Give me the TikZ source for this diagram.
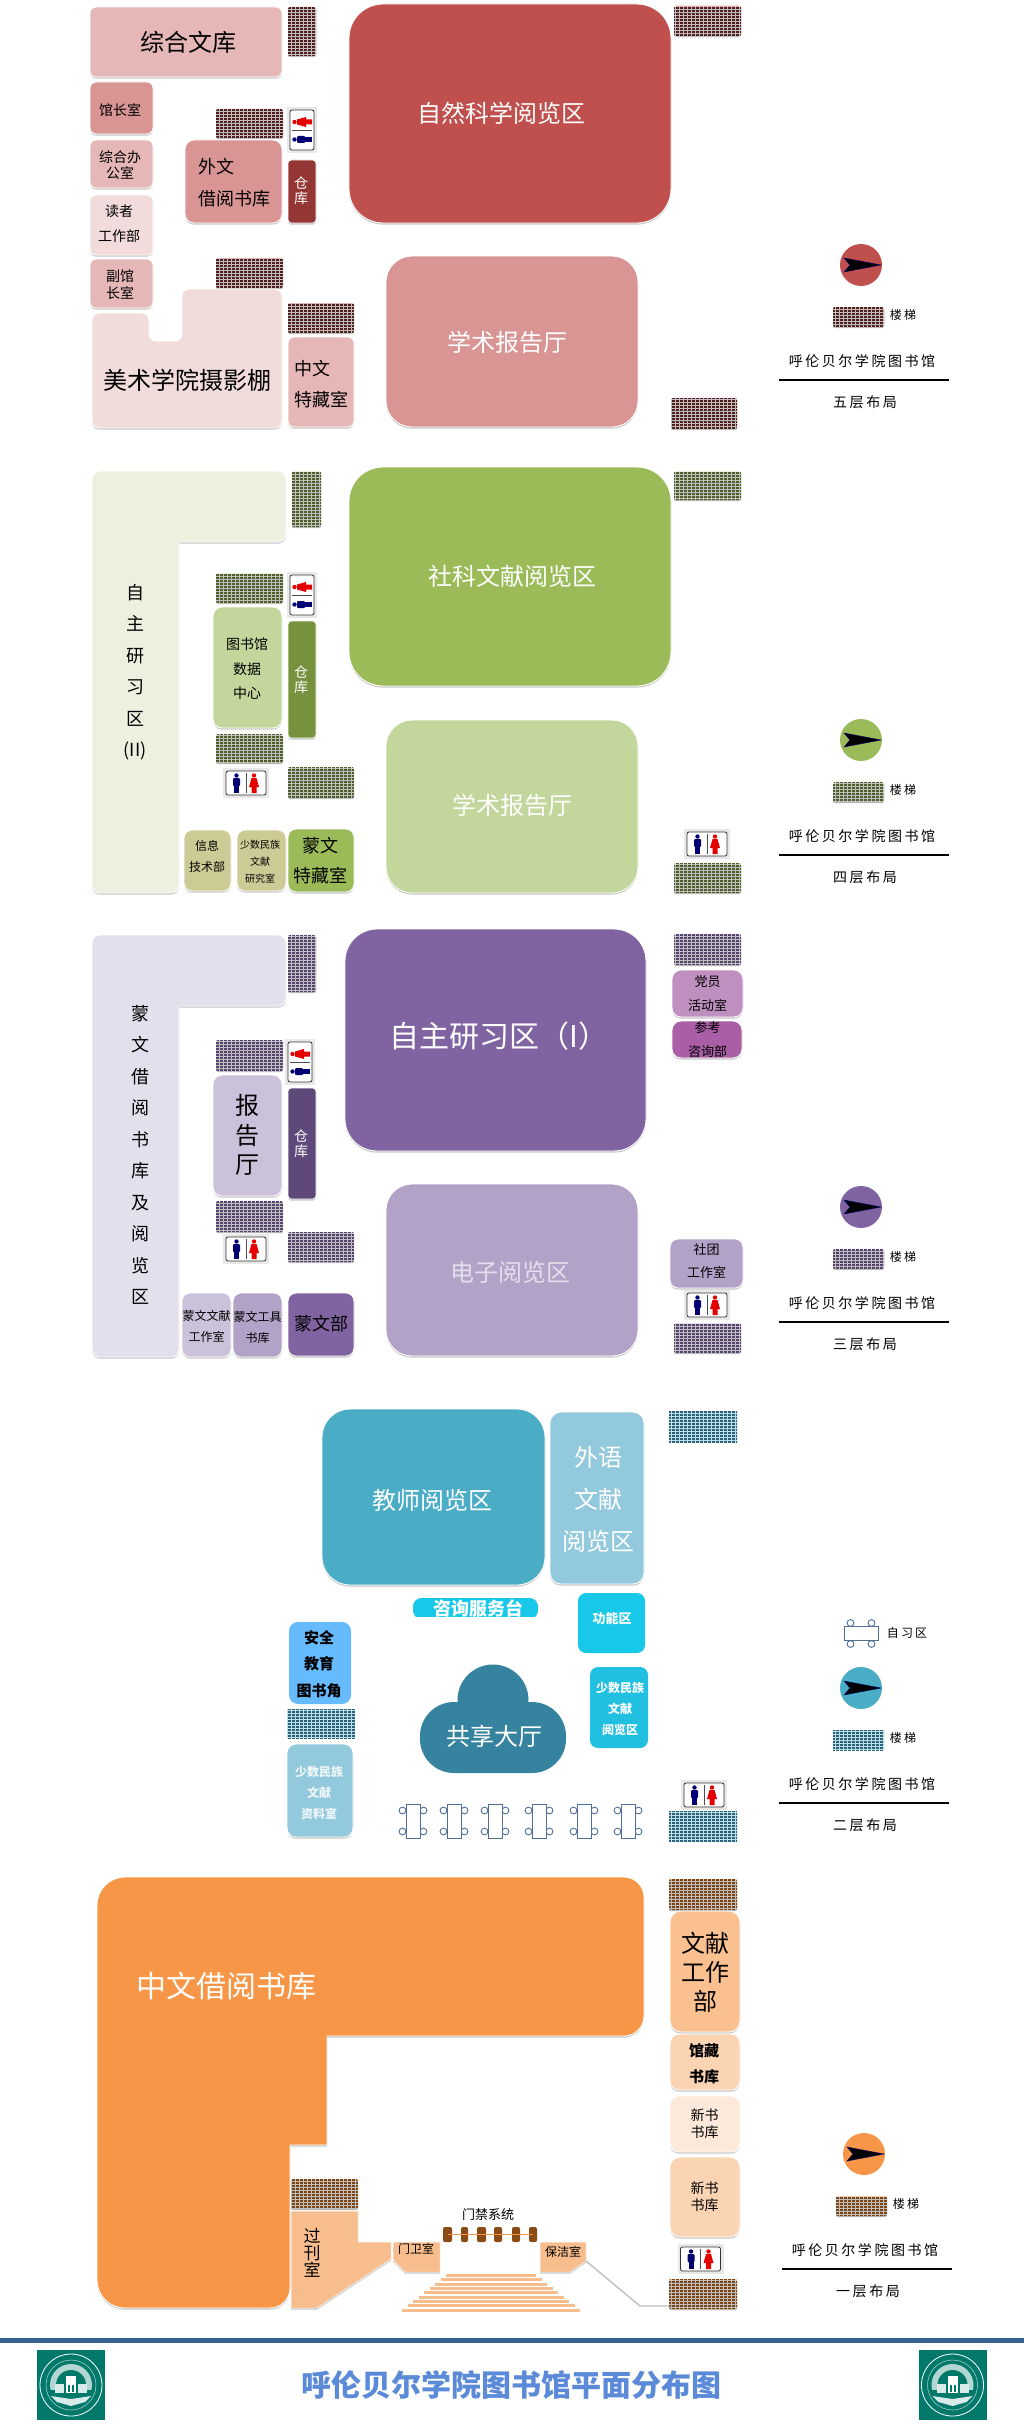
\documentclass[tikz,border=0pt]{standalone}
\usepackage{fontspec}
\setmainfont{Noto Sans CJK SC}
\newfontfamily\cjkspaced[LetterSpace=18]{Noto Sans CJK SC}
\usetikzlibrary{patterns,shadows,shapes.geometric}
\pgfdeclarepatternformonly{stairdots}{\pgfqpoint{-.1pt}{-.1pt}}{\pgfqpoint{3.1pt}{2.1pt}}{\pgfqpoint{4pt}{3pt}}{%
  \pgfpathrectangle{\pgfqpoint{0pt}{0pt}}{\pgfqpoint{3pt}{2pt}}\pgfusepath{fill}}
\definecolor{rA}{HTML}{C0504D}\definecolor{rB}{HTML}{D99594}\definecolor{rC}{HTML}{E5B8B7}\definecolor{rD}{HTML}{F2DCDB}\definecolor{rE}{HTML}{943634}
\definecolor{gA}{HTML}{9BBB59}\definecolor{gB}{HTML}{C3D69B}\definecolor{gC}{HTML}{EBF1DE}\definecolor{gD}{HTML}{76923C}\definecolor{gE}{HTML}{CDCB95}
\definecolor{pA}{HTML}{8064A2}\definecolor{pB}{HTML}{B2A2C7}\definecolor{pC}{HTML}{CCC1DA}\definecolor{pD}{HTML}{E4DFEC}\definecolor{pE}{HTML}{5F497A}\definecolor{pF}{HTML}{BF8FC0}\definecolor{pG}{HTML}{A95EA5}
\definecolor{bA}{HTML}{4BACC6}\definecolor{bB}{HTML}{93C9DC}\definecolor{bC}{HTML}{17C8E8}\definecolor{bD}{HTML}{21BFE0}\definecolor{bE}{HTML}{66BBFF}\definecolor{bF}{HTML}{35839F}
\definecolor{oA}{HTML}{F79646}\definecolor{oB}{HTML}{FAC090}\definecolor{oC}{HTML}{FBD4B4}\definecolor{oD}{HTML}{FDE9D9}\definecolor{oE}{HTML}{F8BD8C}\definecolor{oF}{HTML}{8B4B14}
\definecolor{barblue}{HTML}{366092}\definecolor{titleblue}{HTML}{5B8BD8}\definecolor{logoteal}{HTML}{00796B}\definecolor{tablec}{HTML}{4F6F97}
\tikzset{
  roombox/.style={draw=white,line width=.9pt,inner sep=0pt,outer sep=0pt,rounded corners=6pt,
    general shadow={fill=black!22,shadow xshift=0pt,shadow yshift=-1.6pt}},
  plainbox/.style={inner sep=0pt,outer sep=0pt,rounded corners=6pt},
  lshape/.style={draw=white,line width=.9pt,general shadow={fill=black!22,shadow xshift=0pt,shadow yshift=-1.6pt}},
  lbl/.style={inner sep=0pt,outer sep=0pt,align=center},
  stairbase/.style={inner sep=0pt,outer sep=0pt,rounded corners=2pt},
  stairF5/.style={stairbase,preaction={fill=rB!70},pattern=stairdots,pattern color=rE!55!black,general shadow={fill=black!25,shadow xshift=0pt,shadow yshift=-1.2pt}},
  stairF4/.style={stairbase,preaction={fill=gC},pattern=stairdots,pattern color=gD!65!black,general shadow={fill=black!25,shadow xshift=0pt,shadow yshift=-1.2pt}},
  stairF3/.style={stairbase,preaction={fill=pD},pattern=stairdots,pattern color=pE!90!black,general shadow={fill=black!25,shadow xshift=0pt,shadow yshift=-1.2pt}},
  stairF2/.style={stairbase,rounded corners=0pt,preaction={fill=bB!60},pattern=stairdots,pattern color=bF!75!black},
  stairF1/.style={stairbase,preaction={fill=oC},pattern=stairdots,pattern color=oF!90!black,general shadow={fill=black!25,shadow xshift=0pt,shadow yshift=-1.2pt}},
}
% room: [opts] name x1 y1 x2 y2 fill
\newcommand{\myroom}[7][]{\node[roombox,fill=#7,minimum width={(#5-#3)*1pt},minimum height={(#6-#4)*1pt},#1] (#2) at ({(#3+#5)/2},{(#4+#6)/2}) {};}
\newcommand{\myflat}[7][]{\node[plainbox,fill=#7,minimum width={(#5-#3)*1pt},minimum height={(#6-#4)*1pt},#1] (#2) at ({(#3+#5)/2},{(#4+#6)/2}) {};}
% stair: name x1 y1 x2 y2 style
\newcommand{\mystair}[6]{\node[#6,minimum width={(#4-#2)*1pt},minimum height={(#5-#3)*1pt}] (#1) at ({(#2+#4)/2},{(#3+#5)/2}) {};}
% label: [leading] name x y size colour text
\newcommand{\mylbl}[7][20]{\node[lbl,text=#6,font=\fontsize{#5}{#1}\selectfont] (#2) at (#3,#4) {#7};}
% washroom: x y rotate
\newcommand{\mywc}[3]{\begin{scope}[shift={(#1,#2)},rotate=#3]
  \fill[black!9] (-23,-15) rectangle (23,15);
  \draw[black!80,fill=white,line width=.8pt,rounded corners=2pt] (-20,-12) rectangle (20,12);
  \draw[black!70,line width=.6pt] (0,-10) -- (0,10);
  \fill[blue!45!black] (-9.5,-7.5) circle (2.2pt);
  \fill[blue!45!black,rounded corners=1pt] (-13,-5) rectangle (-6,3);
  \fill[blue!45!black] (-12,2) rectangle (-7,10);
  \fill[red!90!black] (8,-7.5) circle (2.2pt);
  \fill[red!90!black] (5.5,-5) -- (10.5,-5) -- (13,4) -- (10.5,4) -- (10.5,10) -- (5.5,10) -- (5.5,4) -- (3,4) -- cycle;
\end{scope}}
% table: x y rotate
\newcommand{\mytable}[3]{\begin{scope}[shift={(#1,#2)},rotate=#3,line width=.9pt]
  \foreach \sx in {-10.5,10.5}{\foreach \sy in {-10.5,10.5}{\draw[tablec,fill=white] (\sx,\sy) circle (3.4pt);}}
  \draw[tablec,fill=white] (-7,-17) rectangle (7,17);
\end{scope}}
% key: prefix dx dy circle stairstyle floor
\newcommand{\floorkey}[6]{\begin{scope}[shift={(#2,#3)}]
  \fill[#4] (861,265) circle (21pt);
  \fill[black,draw=blue!45!black,line width=.4pt] (881,265) -- (844,258) -- (850,265) -- (844,272) -- cycle;
  \mystair{#1s}{833}{307}{884}{327}{#5}
  \node[lbl,font=\fontsize{12}{14}\cjkspaced] (#1t) at (903,315) {楼梯};
  \node[lbl,font=\fontsize{14}{16}\cjkspaced] (#1n) at (862,361) {呼伦贝尔学院图书馆};
  \draw[black,line width=1.6pt] (779,380) -- (949,380);
  \node[lbl,font=\fontsize{14}{16}\cjkspaced] (#1f) at (865,402) {#6};
\end{scope}}
\newcommand{\schoollogo}[2]{\begin{scope}[shift={(#1,#2)}]
  \fill[logoteal] (-34,-35) rectangle (34,35);
  \draw[white,line width=.8pt] (0,0) circle (31pt);
  \draw[white!70!logoteal,line width=.5pt] (0,0) circle (25pt);
  \begin{scope}\clip (-24,-24) rectangle (24,4);\fill[white!70!logoteal] (0,0) circle (21pt);\fill[logoteal] (0,0) circle (15pt);\end{scope}
  \fill[white] (-5,-9) rectangle (5,8);
  \fill[white!85!logoteal] (-16,-1) rectangle (-7,8);\fill[white!85!logoteal] (7,-1) rectangle (16,8);
  \fill[logoteal] (-3,0) rectangle (-1,7);\fill[logoteal] (1,0) rectangle (3,7);
  \fill[white!85!logoteal] (-20,11) -- (0,14) -- (20,11) -- (14,17) -- (0,21) -- (-14,17) -- cycle;
\end{scope}}
\begin{document}
\begin{tikzpicture}[x=1pt,y=-1pt]
\useasboundingbox (0,0) rectangle (1024,2427);
\fill[white] (0,0) rectangle (1024,2427);

%% ---------- fifth floor
\myroom{f5a}{90}{7}{282}{77}{rC}
\mystair{f5s1}{288}{7}{316}{56}{stairF5}
\myroom[rounded corners=34pt]{f5b}{349}{4}{671}{223}{rA}
\mystair{f5s2}{674}{6}{741}{36}{stairF5}
\myroom{f5c}{90}{82}{153}{134}{rB}
\myroom{f5d}{90}{140}{153}{188}{rC}
\myroom{f5e}{90}{195}{153}{255}{rD}
\myroom{f5f}{90}{259}{153}{308}{rC}
\mystair{f5s3}{216}{109}{283}{138}{stairF5}
\mywc{302}{130}{90}
\myroom[rounded corners=9pt]{f5g}{185}{140}{282}{223}{rB}
\myroom[rounded corners=3pt]{f5h}{288}{160}{316}{223}{rE}
\mystair{f5s4}{216}{258}{283}{288}{stairF5}
\path[lshape,fill=rD,rounded corners=7pt] (92,313) -- (149,313) -- (149,341) -- (182,341) -- (182,289) -- (282,289) -- (282,428) -- (92,428) -- cycle;
\mystair{f5s5}{288}{303}{354}{333}{stairF5}
\myroom{f5i}{288}{337}{354}{427}{rC}
\myroom[rounded corners=26pt]{f5j}{386}{256}{638}{427}{rB}
\mystair{f5s6}{671}{398}{737}{429}{stairF5}
\mylbl{t5a}{188}{42}{24}{black}{综合文库}
\mylbl{t5b}{501}{113}{24}{white}{自然科学阅览区}
\mylbl{t5c}{120}{110}{14}{black}{馆长室}
\mylbl[16]{t5d}{120}{165}{14}{black}{综合办\\公室}
\mylbl[25]{t5e}{119}{224}{14}{black}{读者\\工作部}
\mylbl[17]{t5f}{120}{285}{14}{black}{副馆\\长室}
\mylbl[32]{t5g}{234}{183}{18}{black}{\makebox[72pt][l]{外文}\\借阅书库}
\mylbl[15]{t5h}{301}{191}{14}{white}{仓\\库}
\mylbl{t5i}{187}{380}{24}{black}{美术学院摄影棚}
\mylbl[31]{t5j}{321}{384}{18}{black}{\makebox[54pt][l]{中文}\\特藏室}
\mylbl{t5k}{507}{342}{24}{white}{学术报告厅}
\floorkey{k5}{0}{0}{rA}{stairF5}{五层布局}

%% ---------- fourth floor
\path[lshape,fill=gC,rounded corners=8pt] (92,471) -- (286,471) -- (286,542) [sharp corners] -- (179,542) [rounded corners=8pt] -- (179,893) -- (92,893) -- cycle;
\mystair{f4s1}{292}{471}{321}{527}{stairF4}
\myroom[rounded corners=34pt]{f4b}{349}{467}{671}{686}{gA}
\mystair{f4s2}{674}{471}{741}{500}{stairF4}
\mystair{f4s3}{216}{573}{283}{603}{stairF4}
\mywc{302}{595}{90}
\myroom[rounded corners=9pt]{f4c}{213}{607}{282}{728}{gB}
\myroom[rounded corners=3pt]{f4d}{288}{621}{316}{738}{gD}
\mystair{f4s4}{216}{734}{283}{763}{stairF4}
\mywc{246}{783}{0}
\mystair{f4s5}{288}{767}{354}{798}{stairF4}
\myroom[rounded corners=26pt]{f4e}{386}{720}{638}{893}{gB}
\mywc{707}{844}{0}
\mystair{f4s6}{674}{863}{741}{893}{stairF4}
\myroom[rounded corners=8pt]{f4f}{184}{830}{231}{891}{gE}
\myroom[rounded corners=8pt]{f4g}{237}{830}{286}{891}{gE}
\myroom[rounded corners=8pt]{f4h}{288}{829}{354}{892}{gA}
\mylbl[31.5]{t4a}{135}{672}{18}{black}{自\\主\\研\\习\\区\\(II)}
\mylbl{t4b}{512}{576}{24}{white}{社科文献阅览区}
\mylbl[24.5]{t4c}{247}{669}{14}{black}{图书馆\\数据\\中心}
\mylbl[15]{t4d}{301}{680}{14}{white}{仓\\库}
\mylbl{t4e}{512}{805}{24}{white}{学术报告厅}
\mylbl[21]{t4f}{207}{856}{12}{black}{信息\\技术部}
\mylbl[17]{t4g}{260}{862}{10}{black}{少数民族\\文献\\研究室}
\mylbl[30]{t4h}{320}{861}{18}{black}{蒙文\\特藏室}
\floorkey{k4}{0}{475}{gA}{stairF4}{四层布局}

%% ---------- third floor
\path[lshape,fill=pD,rounded corners=8pt] (92,935) -- (286,935) -- (286,1006) [sharp corners] -- (179,1006) [rounded corners=8pt] -- (179,1357) -- (92,1357) -- cycle;
\mystair{f3s1}{288}{935}{316}{992}{stairF3}
\myroom[rounded corners=32pt]{f3b}{345}{929}{646}{1151}{pA}
\mystair{f3s2}{674}{934}{741}{965}{stairF3}
\myroom[rounded corners=9pt]{f3c}{672}{970}{743}{1017}{pF}
\myroom[rounded corners=9pt]{f3d}{672}{1021}{742}{1058}{pG}
\mystair{f3s3}{216}{1040}{283}{1071}{stairF3}
\mywc{300}{1062}{90}
\myroom[rounded corners=9pt]{f3e}{213}{1075}{282}{1196}{pC}
\myroom[rounded corners=3pt]{f3f}{288}{1088}{316}{1199}{pE}
\mystair{f3s4}{216}{1201}{283}{1232}{stairF3}
\mywc{246}{1249}{0}
\mystair{f3s5}{288}{1232}{354}{1262}{stairF3}
\myroom[rounded corners=26pt]{f3g}{386}{1184}{638}{1356}{pB}
\myroom[rounded corners=8pt]{f3h}{670}{1239}{743}{1288}{pB}
\mywc{707}{1305}{0}
\mystair{f3s6}{674}{1323}{741}{1353}{stairF3}
\myroom[rounded corners=8pt]{f3i}{182}{1293}{231}{1357}{pC}
\myroom[rounded corners=8pt]{f3j}{233}{1293}{282}{1357}{pB}
\myroom[rounded corners=8pt]{f3k}{288}{1293}{354}{1356}{pA}
\mylbl[31.5]{t3a}{140.5}{1155}{18}{black}{蒙\\文\\借\\阅\\书\\库\\及\\阅\\览\\区}
\mylbl{t3b}{499}{1036}{30}{white}{自主研习区（I）}
\mylbl[24]{t3c}{707.5}{994}{13}{black}{党员\\活动室}
\mylbl[24]{t3d}{707.5}{1040}{13}{black}{参考\\咨询部}
\mylbl[29.5]{t3e}{247}{1135}{24}{black}{报\\告\\厅}
\mylbl[15]{t3f}{301}{1144}{14}{white}{仓\\库}
\mylbl{t3g}{510}{1272}{24}{pD}{电子阅览区}
\mylbl[23]{t3h}{706.5}{1261}{13}{black}{社团\\工作室}
\mylbl[21]{t3i}{206.5}{1326}{12}{black}{蒙文文献\\工作室}
\mylbl[21]{t3j}{257.5}{1327}{12}{black}{蒙文工具\\书库}
\mylbl{t3k}{321}{1324}{18}{black}{蒙文部}
\floorkey{k3}{0}{942}{pA}{stairF3}{三层布局}

%% ---------- second floor
\myroom[rounded corners=28pt]{f2a}{322}{1409}{545}{1585}{bA}
\myroom[rounded corners=11pt]{f2b}{550}{1412}{644}{1584}{bB}
\mystair{f2s1}{669}{1411}{737}{1442}{stairF2}
\begin{scope}
  \clip (410,1596) rectangle (541,1616);
  \myflat[rounded corners=8.5pt]{f2c}{413}{1598}{538}{1619}{bC}
  \mylbl{t2c}{478}{1608}{18}{white}{\bfseries 咨询服务台}
\end{scope}
\myflat[rounded corners=8pt]{f2d}{578}{1593}{645}{1653}{bC}
\myflat[rounded corners=8pt]{f2e}{590}{1667}{648}{1748}{bD}
\myflat[rounded corners=9pt]{f2f}{289}{1622}{351}{1704}{bE}
\mystair{f2s2}{287}{1709}{355}{1738}{stairF2}
\myroom[rounded corners=9pt]{f2g}{287}{1744}{353}{1837}{bB}
\fill[bF] (493,1700) circle (35.5pt);
\fill[bF,rounded corners=34pt] (420,1702) rectangle (566,1773);
\mytable{413}{1821}{0}\mytable{454}{1821}{0}\mytable{495}{1821}{0}
\mytable{539}{1821}{0}\mytable{584}{1821}{0}\mytable{628}{1821}{0}
\mywc{704}{1795}{0}
\mystair{f2s3}{669}{1811}{737}{1842}{stairF2}
\mylbl{t2a}{432}{1500}{24}{white}{教师阅览区}
\mylbl[42]{t2b}{598}{1499}{24}{white}{外语\\文献\\阅览区}
\mylbl{t2d}{612}{1619}{13}{white}{\bfseries 功能区}
\mylbl[21]{t2e}{620}{1709}{12}{white}{\bfseries 少数民族\\\bfseries 文献\\\bfseries 阅览区}
\mylbl[26.5]{t2f}{319}{1664}{15}{black}{\bfseries 安全\\\bfseries 教育\\\bfseries 图书角}
\mylbl[21]{t2g}{319}{1793}{12}{white!85!bB}{\bfseries 少数民族\\\bfseries 文献\\\bfseries 资料室}
\mylbl{t2h}{494}{1736}{24}{white}{共享大厅}
\mytable{861}{1633.5}{90}
\node[lbl,font=\fontsize{12}{14}\cjkspaced] (t2i) at (907,1633) {自习区};
\floorkey{k2}{0}{1423}{bA}{stairF2}{二层布局}

%% ---------- first floor
\path[lshape,fill=oA] (400,1877) [rounded corners=28pt] -- (97,1877) -- (97,2308) [rounded corners=20pt] -- (290,2308) [sharp corners] -- (290,2145) -- (327,2145) -- (327,2036) [rounded corners=20pt] -- (644,2036) -- (644,1877) -- cycle;
\mystair{f1s1}{669}{1879}{737}{1910}{stairF1}
\myroom[rounded corners=11pt]{f1a}{670}{1911}{740}{2032}{oB}
\myroom[rounded corners=9pt]{f1b}{670}{2034}{740}{2090}{oC}
\myroom[rounded corners=9pt]{f1c}{670}{2096}{740}{2152}{oD}
\myroom[rounded corners=10pt]{f1d}{670}{2157}{740}{2237}{oC}
\mywc{700.5}{2259}{0}
\mystair{f1s2}{669}{2279}{737}{2309}{stairF1}
\mystair{f1s3}{291}{2179}{358}{2209}{stairF1}
\path[lshape,fill=oE,line width=.5pt] (291,2211) -- (358,2211) -- (358,2242) -- (391,2242) -- (391,2259) -- (317,2308) -- (291,2308) -- cycle;
\path[lshape,fill=oE,line width=.5pt] (393,2242) -- (440,2242) -- (440,2272) -- (405,2272) -- (393,2260) -- cycle;
\path[lshape,fill=oE,line width=.5pt] (540,2242) -- (586,2242) -- (586,2261) -- (570,2272) -- (540,2272) -- cycle;
\foreach \i in {0,...,8}{
  \pgfmathsetmacro{\hw}{45+\i*5.5}
  \pgfmathsetmacro{\yy}{2275.5+\i*4.35}
  \draw[oE,line width=3pt] ({491-\hw},\yy) -- ({491+\hw},\yy);
}
\foreach \n/\xa/\xb in {1/443/452,2/461/468,3/477/486,4/494/502,5/512/520,6/529/537}{
  \myflat[fill=oF,rounded corners=2pt]{gp\n}{\xa}{2227}{\xb}{2242}{oF}
}
\draw[oA,line width=1.5pt] (gp1.center) -- (gp6.center);
\coordinate (bjcorner) at (586,2261);
\coordinate (bjbend) at (640,2306);
\draw[black!25,line width=1.4pt] (bjcorner) -- (bjbend) -- (f1s2.west |- bjbend);
\mylbl{t1a}{226}{1986}{30}{white}{中文借阅书库}
\mylbl[17]{t1b}{312}{2253}{17}{black}{过\\刊\\室}
\mylbl{t1c}{416}{2249}{12}{black}{门卫室}
\mylbl{t1d}{563}{2252}{12}{black}{保洁室}
\node[lbl,font=\fontsize{13}{15}\selectfont] (t1e) at (488,2215) {门禁系统};
\mylbl[29]{t1f}{705}{1972}{24}{black}{文献\\工作\\部}
\mylbl[26]{t1g}{704}{2064}{15}{black}{\bfseries 馆藏\\\bfseries 书库}
\mylbl[17]{t1h}{704.5}{2123.5}{14}{black}{新书\\书库}
\mylbl[17]{t1i}{704.5}{2196.5}{14}{black}{新书\\书库}
\floorkey{k1}{3}{1889}{oA}{stairF1}{一层布局}

%% ---------- footer
\fill[barblue] (0,2338) rectangle (1024,2343);
\schoollogo{71}{2385}
\schoollogo{952.5}{2385}
\mylbl{tfoot}{511}{2385}{30}{titleblue}{\bfseries 呼伦贝尔学院图书馆平面分布图}
\end{tikzpicture}
\end{document}
